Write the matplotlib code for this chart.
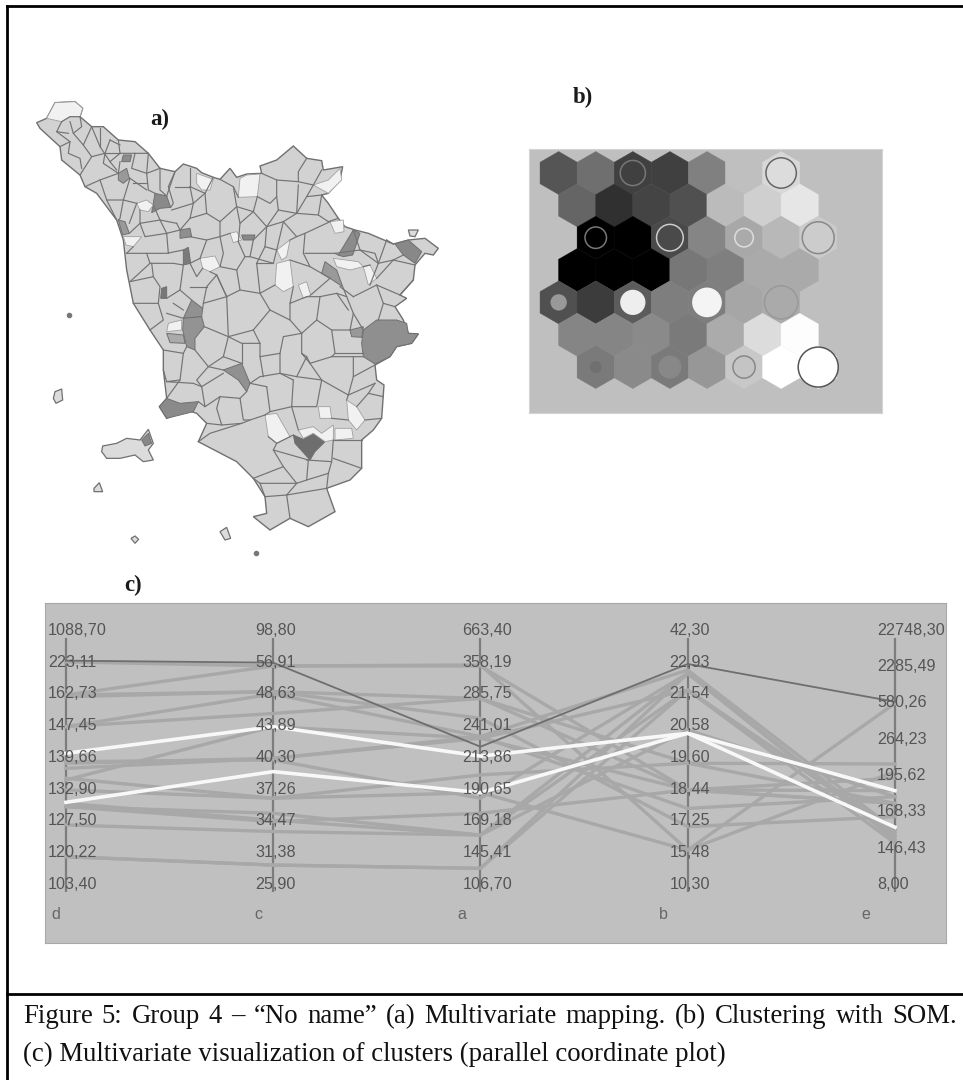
import numpy as np
import matplotlib
matplotlib.use("Agg")
import matplotlib.pyplot as plt
from matplotlib.lines import Line2D
from matplotlib.patches import RegularPolygon, Circle

W, H = 963, 1080

# ---- a) map: everything in the same coordinates as the map picture
map_outline = [(50,98),(80,85),(105,38),(165,35),(188,55),(180,80),(215,110),(250,110),(295,150),(345,155),
    (385,190),(420,235),(465,245),(490,222),(530,235),(545,248),(580,262),(600,268),(630,235),(650,262),
    (680,252),(725,250),(720,228),(770,210),(820,168),(860,205),(905,212),(910,240),(968,230),(960,270),
    (925,310),(905,315),(925,340),(955,385),(975,410),(1005,420),(1045,430),(1120,462),(1165,450),(1215,445),
    (1255,475),(1240,495),(1215,490),(1185,525),(1180,570),(1140,615),(1160,625),(1125,650),(1150,690),(1165,730),
    (1195,732),(1175,760),(1130,770),(1110,800),(1065,825),(1070,870),(1092,885),(1085,985),(1060,1020),(1025,1050),
    (1025,1135),(990,1170),(920,1195),(945,1265),(865,1310),(810,1285),(750,1320),(700,1280),(740,1270),(735,1220),
    (700,1165),(650,1115),(535,1055),(560,1000),(530,970),(500,960),(440,985),(418,950),(440,925),(430,840),
    (430,780),(390,720),(340,640),(320,540),(310,450),(290,390),(230,310),(195,290),(180,255),(125,210),
    (120,170),(60,115)]

dark_regions = [
    ([(820,1035),(850,1048),(880,1030),(915,1055),(885,1085),(870,1110),(825,1060)], "#6e6e6e"),
    ([(1030,720),(1070,690),(1130,690),(1160,700),(1165,730),(1195,732),(1175,760),(1130,770),(1110,800),(1065,822),(1030,800),(1025,760)], "#8f8f8f"),
    ([(610,840),(665,820),(690,880),(680,905),(655,870)], "#919191"),
    ([(418,950),(440,925),(480,940),(535,935),(520,965),(440,985)], "#8a8a8a"),
    ([(515,630),(548,655),(545,680),(490,685)], "#919191"),
    ([(490,685),(545,680),(553,710),(525,745),(525,780),(500,770),(488,720)], "#939393"),
    ([(1125,462),(1165,450),(1205,485),(1185,520),(1150,495)], "#888888"),
    ([(955,495),(985,445),(1000,420),(1020,430),(998,495),(970,500)], "#8c8c8c"),
    ([(915,515),(950,540),(968,590),(930,565),(905,550)], "#999999"),
    ([(490,480),(505,472),(512,520),(490,525)], "#7a7a7a"),
    ([(425,595),(440,590),(440,625),(422,625)], "#777777"),
    ([(405,310),(440,318),(452,352),(420,355),(395,368)], "#8a8a8a"),
    ([(295,390),(315,395),(328,430),(308,435)], "#999999"),
    ([(295,250),(320,235),(328,265),(310,280),(295,270)], "#999999"),
    ([(310,195),(335,195),(330,215),(305,215)], "#8c8c8c"),
    ([(480,420),(510,415),(515,440),(480,445)], "#8f8f8f"),
    ([(665,435),(705,435),(700,450),(670,450)], "#888888"),
    ([(990,720),(1030,710),(1025,742),(995,740)], "#999999"),
    ([(440,730),(490,735),(495,760),(450,758)], "#aaaaaa"),
]

white_regions = [
    [(80,85),(105,38),(165,35),(188,55),(180,80),(150,80),(125,95)],
    [(530,250),(580,268),(570,300),(545,300),(530,280)],
    [(660,265),(680,255),(720,252),(712,320),(655,322)],
    [(880,285),(925,270),(960,235),(965,270),(925,310)],
    [(350,340),(380,330),(400,345),(385,365),(360,360)],
    [(310,440),(365,440),(340,470),(318,465)],
    [(540,505),(585,498),(600,530),(570,545),(548,535)],
    [(770,480),(810,450),(800,500),(785,510)],
    [(770,520),(810,510),(820,590),(790,605),(765,585)],
    [(835,585),(860,575),(872,615),(850,625)],
    [(630,430),(650,425),(665,450),(640,458)],
    [(930,395),(970,390),(972,425),(945,430)],
    [(1030,530),(1050,525),(1070,565),(1045,585)],
    [(445,700),(485,690),(485,720),(440,725)],
    [(735,975),(770,970),(810,1040),(770,1060),(745,1040)],
    [(980,930),(1010,950),(1035,990),(1010,1020),(985,990)],
    [(895,950),(930,950),(935,985),(900,985)],
    [(835,1020),(880,1010),(905,1030),(940,1005),(940,1050),(915,1055),(880,1030),(850,1045)],
    [(945,1015),(995,1015),(1000,1045),(945,1050)],
    [(940,505),(1015,515),(1030,530),(990,540),(950,530)],
]

islands = [
    [(248,1068),(290,1060),(320,1045),(360,1050),(385,1018),(400,1060),(385,1080),(400,1110),(370,1115),(345,1095),(300,1105),(260,1105),(245,1085)],
    [(105,905),(125,897),(128,930),(108,940),(100,925)],
    [(222,1195),(238,1178),(248,1205),(222,1205)],
    [(600,1325),(620,1312),(632,1345),(615,1350)],
    [(333,1345),(345,1338),(356,1348),(345,1360)],
    [(1165,420),(1195,420),(1185,440),(1170,438)],
]
elba_dark = [(365,1050),(385,1030),(395,1060),(375,1068)]
map_dots = [(148,676),(708,1390)]

borders = [
    [(125,95),(150,80),(180,80)], [(125,95),(110,125),(150,155),(120,170)],
    [(150,155),(145,190),(180,205),(185,235)], [(180,80),(185,110),(160,130),(190,165),(215,110)],
    [(190,165),(215,200),(255,190),(270,150)], [(215,200),(180,255)], [(255,190),(250,220),(295,250)],
    [(240,115),(240,170)], [(295,150),(300,190),(345,190),(385,190)], [(300,190),(270,215),(290,240)],
    [(345,190),(335,235),(380,250),(420,235)], [(195,290),(240,270),(295,250)],
    [(240,270),(260,330),(310,330),(330,265)], [(310,330),(350,340)], [(380,250),(385,300),(405,310)],
    [(440,318),(465,245)], [(465,290),(510,290),(510,235)], [(465,245),(445,290),(460,340),(452,352)],
    [(510,290),(520,340),(455,360)], [(510,290),(555,310),(580,262)],
    [(555,310),(560,370),(600,395),(650,350),(640,290),(600,268)], [(640,290),(655,322)],
    [(712,320),(700,365),(650,350)], [(712,320),(750,340),(770,320),(770,270),(725,250)],
    [(860,205),(835,245),(835,275),(880,285),(905,240)], [(770,270),(835,275)],
    [(835,285),(830,370),(775,360),(770,320)], [(880,285),(860,320),(905,315)], [(860,320),(830,370)],
    [(905,315),(895,375),(925,395),(955,385)], [(830,370),(895,375)], [(775,360),(740,410),(700,365)],
    [(740,410),(790,395),(830,370)], [(790,395),(830,440),(810,450)], [(740,410),(735,470),(770,480)],
    [(600,395),(600,440),(630,430)], [(560,370),(510,385),(480,420)], [(400,345),(420,390),(440,430),(480,420)],
    [(360,400),(420,390)], [(360,360),(360,400),(328,430)], [(360,400),(375,440),(440,430)],
    [(320,490),(380,490),(390,520),(330,575)], [(340,470),(320,490)], [(380,490),(440,490),(490,480)],
    [(440,430),(445,490)], [(390,520),(460,520),(490,525)], [(510,520),(540,505)],
    [(600,440),(610,490),(600,530),(650,540),(675,500),(655,455)], [(700,450),(690,500),(675,500)],
    [(690,500),(760,520),(770,480)], [(650,540),(660,600),(620,620),(590,555),(570,545)],
    [(660,600),(720,610),(710,520)], [(720,610),(765,585)], [(820,590),(810,640),(860,620)],
    [(810,510),(870,530),(905,550)], [(870,530),(850,490),(855,430),(830,440)], [(855,430),(930,395)],
    [(855,490),(945,490),(955,495)], [(872,615),(930,565)], [(968,590),(980,620),(1000,670),(1030,720)],
    [(1000,620),(1070,585),(1140,615)], [(1050,585),(1075,520),(1120,510),(1185,525)], [(1075,520),(1100,450)],
    [(1020,480),(1065,490),(1075,520)], [(1140,615),(1180,570)], [(900,620),(890,690),(935,720),(990,720)],
    [(860,620),(900,620),(950,610),(985,660)], [(890,690),(845,730),(810,690),(810,640)],
    [(845,730),(845,790),(870,820)], [(720,610),(750,660),(810,690)], [(750,660),(700,720),(625,740),(620,620)],
    [(620,620),(550,640),(548,655)], [(553,710),(625,740),(610,800),(565,830),(525,780)],
    [(700,720),(720,760),(720,800),(780,790),(790,740),(845,730)], [(780,790),(780,850),(830,860),(860,800),(845,790)],
    [(625,740),(665,760),(720,760)], [(665,760),(665,820)], [(610,840),(565,830),(530,870),(545,890)],
    [(690,880),(720,860),(780,850)], [(690,880),(740,890)], [(430,780),(490,790),(500,770)],
    [(490,790),(480,870),(440,875),(520,880),(545,890),(555,950),(535,935)], [(545,890),(610,850)],
    [(555,950),(600,920),(660,925),(680,905)], [(660,925),(670,990),(690,990)], [(600,920),(590,955),(605,1005),(665,1000)],
    [(560,1000),(605,1005)], [(740,890),(750,965),(735,975)], [(750,965),(815,950),(820,870)],
    [(815,950),(890,950),(905,870),(830,860)], [(905,870),(985,915),(1065,880)],
    [(905,870),(870,820),(935,800),(1000,800),(1030,800)], [(1000,800),(1000,860),(1065,825)], [(985,915),(980,930)],
    [(1035,990),(1085,985)], [(1010,950),(1045,910),(1090,920)], [(935,985),(985,990)], [(815,950),(835,1020)],
    [(535,1055),(570,1030),(665,1000),(690,990),(735,975)], [(745,1040),(770,1060),(810,1040)], [(810,1040),(820,1035)],
    [(770,1060),(760,1080),(865,1110)], [(865,1110),(860,1170),(830,1180),(790,1130),(760,1080)], [(790,1130),(700,1165)],
    [(700,1165),(720,1180),(830,1180)], [(860,1110),(935,1115),(925,1150),(860,1170)], [(935,1115),(940,1050)],
    [(925,1150),(920,1195)], [(830,1180),(800,1215),(920,1195)], [(800,1215),(810,1285)], [(735,1220),(800,1215)],
    [(720,1180),(735,1220)], [(940,1050),(1025,1050)], [(940,1105),(1025,1135)],
    # smaller communes
    [(330,575),(400,560),(420,590),(415,640),(340,640)], [(400,560),(395,520)], [(415,640),(430,690),(390,720)],
    [(440,625),(480,600),(490,525)], [(480,600),(515,630)], [(460,640),(490,660)], [(440,670),(490,685)],
    [(550,640),(560,590),(590,555)], [(510,590),(560,590)], [(548,535),(530,560),(510,520)], [(590,555),(620,620)],
    [(710,520),(760,520)], [(960,590),(1000,620)], [(905,550),(930,565)], [(1000,670),(990,720)],
    [(1070,585),(1090,640),(1125,650)], [(1090,640),(1075,690)], [(980,620),(950,610)], [(935,720),(945,790),(935,800)],
    [(945,790),(1030,790)], [(1000,860),(985,915)], [(1045,910),(1065,880)], [(870,820),(860,800)], [(780,850),(820,870)],
    [(720,800),(730,860)], [(610,800),(665,820)], [(440,875),(430,840)], [(480,870),(440,925)],
    [(150,95),(160,130)], [(110,125),(145,130)], [(215,110),(240,170),(270,215)], [(270,150),(300,165)], [(255,190),(300,190)],
    [(295,250),(300,215)], [(385,190),(380,250)], [(420,235),(420,300),(440,318)], [(340,280),(380,280)],
    [(310,330),(300,385),(295,390)], [(330,265),(380,300)], [(260,330),(290,390)], [(350,340),(328,400)], [(520,340),(510,385)],
    [(555,310),(520,340)], [(650,350),(660,400),(700,365)], [(660,400),(655,455)], [(600,440),(560,450),(540,505)],
    [(560,450),(510,440)], [(420,390),(470,400)], [(470,400),(480,420)], [(740,410),(700,450)], [(735,470),(710,520)],
    [(790,395),(770,480)], [(1100,450),(1120,462)], [(1075,520),(1020,480),(1000,420)], [(945,490),(1020,480)],
    [(1120,510),(1150,495)], [(1050,525),(1030,530)], [(1070,565),(1120,510)],
]

# ---- b) SOM grid, row by row
som_offsets = [0, 0.5, 1, 0.5, 0, 0.5, 1]
som_grey = [
    ["#555555","#6f6f6f","#404040","#404040","#808080","#bfbfbf","#d8d8d8"],
    ["#656565","#303030","#444444","#505050","#bbbbbb","#cfcfcf","#e6e6e6"],
    ["#000000","#000000","#4a4a4a","#858585","#a8a8a8","#b8b8b8","#cacaca"],
    ["#000000","#000000","#000000","#777777","#7f7f7f","#aaaaaa","#aaaaaa"],
    ["#505050","#3c3c3c","#5c5c5c","#7e7e7e","#7e7e7e","#a6a6a6","#ababab"],
    ["#858585","#858585","#8a8a8a","#7a7a7a","#ababab","#dcdcdc","#fdfdfd"],
    ["#7a7a7a","#8a8a8a","#7a7a7a","#979797","#c8c8c8","#ffffff","#ffffff"],
]
# row, column, radius, face, edge
som_circles = [
    (0,2,0.34,"#404040","#777777"), (0,6,0.41,"#dcdcdc","#666666"),
    (2,0,0.29,"#000000","#777777"), (2,2,0.36,"#4a4a4a","#cccccc"),
    (2,4,0.25,"#aaaaaa","#dddddd"), (2,6,0.43,"#cccccc","#888888"),
    (4,0,0.20,"#999999","#999999"), (4,2,0.32,"#eeeeee","#eeeeee"),
    (4,4,0.38,"#f4f4f4","#f4f4f4"), (4,6,0.45,"#aaaaaa","#999999"),
    (6,0,0.14,"#707070","#707070"), (6,2,0.29,"#888888","#888888"),
    (6,4,0.30,"#c4c4c4","#888888"), (6,6,0.54,"#ffffff","#555555"),
]

# ---- c) parallel coordinates: height along each axis, 0 bottom to 100 top
par_names = ["d", "c", "a", "b", "e"]
par_name_x = [-0.068, 0.907, 1.887, 2.861, 3.836]
par_labels = [
    ["1088,70","223,11","162,73","147,45","139,66","132,90","127,50","120,22","103,40"],
    ["98,80","56,91","48,63","43,89","40,30","37,26","34,47","31,38","25,90"],
    ["663,40","358,19","285,75","241,01","213,86","190,65","169,18","145,41","106,70"],
    ["42,30","22,93","21,54","20,58","19,60","18,44","17,25","15,48","10,30"],
    ["22748,30","2285,49","580,26","264,23","195,62","168,33","146,43","8,00"],
]
grey_lines = [
    [90.6, 89.0, 89.4, 16.5, 74.3],
    [77.6, 89.0, 89.0, 40.2, 39.9],
    [77.6, 78.9, 76.2, 50.7, 50.4],
    [76.9, 78.9, 68.4, 25.7, 29.7],
    [65.1, 78.0, 61.2, 32.9, 37.5],
    [65.1, 70.3, 76.2, 40.2, 34.9],
    [50.7, 52.6, 61.2, 87.4, 24.4],
    [51.3, 52.0, 36.9, 86.1, 21.8],
    [44.1, 65.1, 60.5, 79.5, 23.1],
    [48.7, 52.6, 60.5, 40.2, 44.8],
    [44.8, 36.9, 46.1, 50.7, 34.9],
    [40.2, 36.9, 39.1, 16.5, 47.4],
    [33.6, 31.0, 22.4, 86.1, 21.8],
    [33.6, 27.7, 31.0, 40.2, 34.9],
    [26.4, 23.8, 22.4, 79.5, 24.4],
    [13.9, 10.6, 9.3, 86.1, 20.5],
    [13.9, 10.6, 9.3, 79.5, 19.2],
    [34.9, 28.3, 22.4, 63.8, 37.5],
]
dark_line = [91.1, 90.3, 57.2, 89.8, 74.9]
white_lines = [
    [54.6, 65.1, 53.5, 62.5, 39.9],
    [35.3, 47.4, 39.1, 62.5, 25.5],
]

caption_1 = "Figure 5: Group 4 – “No name” (a) Multivariate mapping. (b) Clustering with SOM."
caption_2 = "(c) Multivariate visualization of clusters (parallel coordinate plot)"


def px_axes(x0, y0, x1, y1):
    return fig.add_axes([x0 / W, 1 - y1 / H, (x1 - x0) / W, (y1 - y0) / H])


fig = plt.figure(figsize=(W / 100, H / 100), dpi=100, facecolor="white")

# map
ax = px_axes(20, 90, 460, 560)
ax.set_xlim(0, 1320)
ax.set_ylim(1410, 0)
ax.axis("off")
ax.fill(*zip(*map_outline), fc="#d2d2d2", ec="#707070", lw=1.0)
for pts, col in dark_regions:
    ax.fill(*zip(*pts), fc=col, ec="#707070", lw=0.7)
for pts in white_regions:
    ax.fill(*zip(*pts), fc="#f1f1f1", ec="#a0a0a0", lw=0.6)
for pts in islands:
    ax.fill(*zip(*pts), fc="#dcdcdc", ec="#707070", lw=0.9)
ax.fill(*zip(*elba_dark), fc="#888888", ec="#707070", lw=0.7)
for pts in borders:
    ax.plot(*zip(*pts), color="#737373", lw=0.85)
ax.plot(*zip(*map_dots), ls="none", marker="o", ms=3, color="#777777")

# SOM
ax = px_axes(529, 149, 882, 413)
row_h = 0.874
ax.set_xlim(-0.80, 8.72)
ax.set_ylim(7.42 * row_h, -0.742 * row_h)
ax.set_facecolor("#bfbfbf")
ax.set_xticks([])
ax.set_yticks([])
for sp in ax.spines.values():
    sp.set_color("#d4d4d4")
for r, row in enumerate(som_grey):
    for c, col in enumerate(row):
        ax.add_patch(RegularPolygon((c + som_offsets[r], r * row_h), 6, radius=0.58, fc=col, ec=col, lw=0.3))
for r, c, rad, face, edge in som_circles:
    ax.add_patch(Circle((c + som_offsets[r], r * row_h), rad, fc=face, ec=edge, lw=1.1))

# parallel coordinates
ax = px_axes(45, 603, 946, 943)
ax.set_xlim(-0.101, 4.246)
ax.set_ylim(-20.1, 113.8)
ax.set_facecolor("#c0c0c0")
ax.set_xticks([])
ax.set_yticks([])
for sp in ax.spines.values():
    sp.set_color("#a8a8a8")
xs = np.arange(len(par_names))
ax.vlines(xs, 0, 100, color="#7d7d7d", lw=1.6, zorder=1)
for vals in grey_lines:
    ax.plot(xs, vals, color="#a8a8a8", lw=2.4, zorder=2)
ax.plot(xs, dark_line, color="#6e6e6e", lw=1.3, zorder=3)
for vals in white_lines:
    ax.plot(xs, vals, color="#f8f8f8", lw=2.6, zorder=3)
for i, labels in enumerate(par_labels):
    for lab, lev in zip(labels, np.linspace(103, 3, len(labels))):
        ax.text(i - 0.087, lev, lab, family="Liberation Sans", fontsize=11.6, color="#555555",
                ha="left", va="center", zorder=4)
for name, nx in zip(par_names, par_name_x):
    ax.text(nx, -9, name, family="Liberation Sans", fontsize=11.5, color="#666666", ha="left", va="center")

# panel letters
for lab, x, y in [("a)", 160, 119), ("b)", 583, 97), ("c)", 133, 585)]:
    fig.text(x / W, 1 - y / H, lab, family="Liberation Serif", weight="bold", fontsize=16.5,
             color="#1a1a1a", ha="center", va="center")

# frame
for x0, y0, x1, y1 in [(7, 6, 7, H), (7, 6, W, 6), (7, 994, W, 994)]:
    fig.add_artist(Line2D([x0 / W, x1 / W], [1 - y0 / H, 1 - y1 / H], color="black", lw=2.0))

# caption, first line justified between the margins
renderer = fig.canvas.get_renderer()
words = caption_1.split(" ")
tmp = [fig.text(0, 0, w, family="Liberation Serif", fontsize=19.3) for w in words]
widths = [t.get_window_extent(renderer).width for t in tmp]
for t in tmp:
    t.remove()
gap = (957 - 23 - sum(widths)) / (len(words) - 1)
x = 23
for w, wd in zip(words, widths):
    fig.text(x / W, 1 - 1023 / H, w, family="Liberation Serif", fontsize=19.3, color="#111111", va="baseline")
    x += wd + gap
fig.text(23 / W, 1 - 1061 / H, caption_2, family="Liberation Serif", fontsize=19.3, color="#111111", va="baseline")

fig.savefig("out.png", dpi=100)
